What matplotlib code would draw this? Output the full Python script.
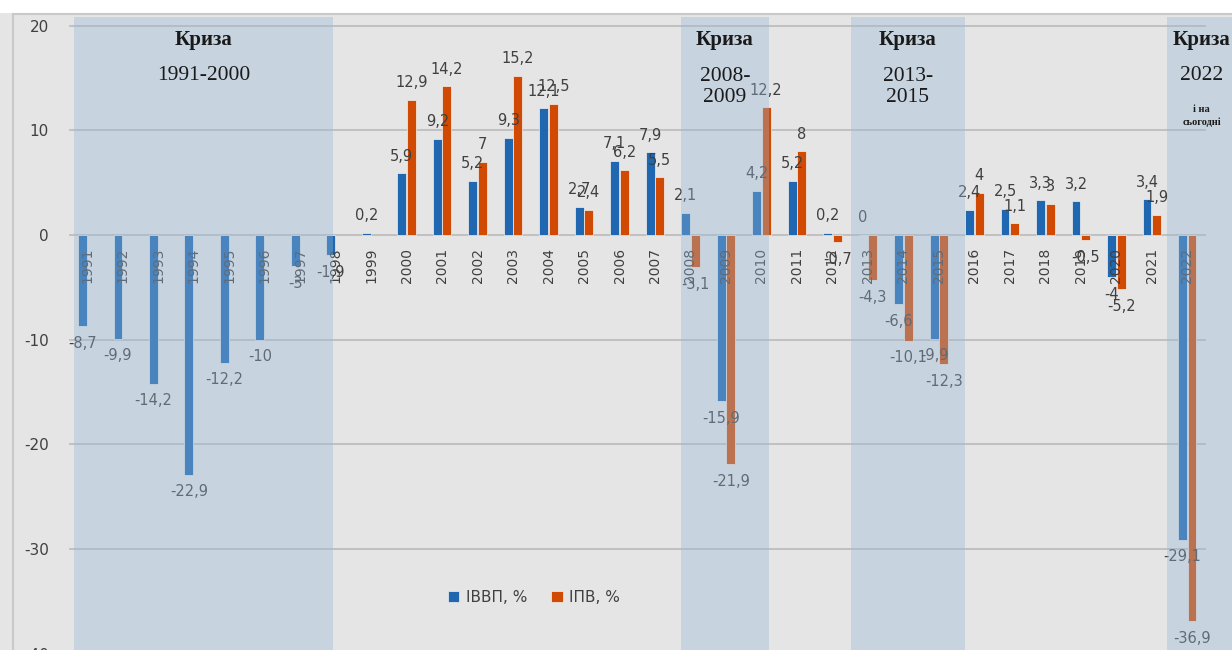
import numpy as np
import matplotlib
matplotlib.use("Agg")
import matplotlib.pyplot as plt
from matplotlib.patches import Rectangle
from matplotlib.lines import Line2D

# ---------------- data ----------------
years = [str(y) for y in range(1991, 2023)]
ivvp = [-8.7, -9.9, -14.2, -22.9, -12.2, -10, -3, -1.9, 0.2, 5.9,
        9.2, 5.2, 9.3, 12.1, 2.7, 7.1, 7.9, 2.1, -15.9, 4.2,
        5.2, 0.2, 0, -6.6, -9.9, 2.4, 2.5, 3.3, 3.2, -4,
        3.4, -29.1]
ipv = [np.nan, np.nan, np.nan, np.nan, np.nan, np.nan, np.nan, np.nan, np.nan, 12.9,
       14.2, 7, 15.2, 12.5, 2.4, 6.2, 5.5, -3.1, -21.9, 12.2,
       8, -0.7, -4.3, -10.1, -12.3, 4, 1.1, 3, -0.5, -5.2,
       1.9, -36.9]
series_names = ["ІВВП, %", "ІПВ, %"]
y_ticks = [-40, -30, -20, -10, 0, 10, 20]

crisis_titles = ["Криза", "Криза", "Криза", "Криза"]
crisis_periods = ["1991-2000", "2008-\n2009", "2013-\n2015", "2022"]

# ---------------- style / layout ----------------
W, H = 1232, 650
BLUE = "#1F67B1"
ORANGE = "#D04A04"
BG = "#E5E5E5"
GRID = "#BEBEBE"
TXT = "#404040"
BAND = "#96B7D6"

fig = plt.figure(figsize=(W / 100, H / 100), dpi=100, facecolor=BG)

def fx(px):
    return px / W

def fy(py):
    return 1 - py / H

# outer chart frame
fig.patches.append(Rectangle((0, fy(13)), 1, 1 - fy(13), transform=fig.transFigure,
                             facecolor="white", edgecolor="none", zorder=0))
fig.add_artist(Line2D([fx(13), 1], [fy(14), fy(14)], color="#C9C9C9", lw=1.5,
                      transform=fig.transFigure))
fig.add_artist(Line2D([fx(13), fx(13)], [fy(14), 0], color="#C9C9C9", lw=1.5,
                      transform=fig.transFigure))

ax_left, ax_right = 69.5, 1205
ax_top, ax_bot = 25.6, 653.8
ax = fig.add_axes([fx(ax_left), fy(ax_bot), fx(ax_right - ax_left), (ax_bot - ax_top) / H])
ax.set_facecolor("none")

x = np.arange(len(years))
bw = 0.25
off = 0.135
ax.bar(x - off, ivvp, width=bw, color=BLUE, edgecolor="#F2F2F2", linewidth=0.5,
       label=series_names[0], zorder=3)
ax.bar(x + off, ipv, width=bw, color=ORANGE, edgecolor="#F2F2F2", linewidth=0.5,
       label=series_names[1], zorder=3)

def fmt(v):
    return f"{v:g}".replace(".", ",")

for xs, vals in ((x - off, ivvp), (x + off, ipv)):
    for xi, v in zip(xs, vals):
        if np.isnan(v):
            continue
        if v >= 0:
            ax.annotate(fmt(v), (xi, v), xytext=(0, 7), textcoords="offset points",
                        ha="center", va="bottom", fontsize=10.5, color=TXT, zorder=4)
        else:
            ax.annotate(fmt(v), (xi, v), xytext=(0, -7), textcoords="offset points",
                        ha="center", va="top", fontsize=10.5, color=TXT, zorder=4)

ax.set_xlim(-0.5, len(years) - 0.5)
ax.set_ylim(-40, 20)
ax.set_yticks(y_ticks)
ax.set_yticklabels([str(t) for t in y_ticks])
ax.set_xticks(x)
ax.set_xticklabels(years)
ax.tick_params(axis="x", length=0, pad=9, labelsize=10, labelcolor=TXT, labelrotation=90)
ax.tick_params(axis="y", length=0, pad=15, labelsize=11, labelcolor=TXT)
for lab in ax.get_xticklabels():
    lab.set_verticalalignment("top")
    lab.set_horizontalalignment("center")
ax.xaxis.set_zorder(3.5)
for s in ("top", "right", "left"):
    ax.spines[s].set_visible(False)
ax.spines["bottom"].set_position(("data", 0))
ax.spines["bottom"].set_color(GRID)
ax.spines["bottom"].set_linewidth(1.3)
for t in y_ticks:
    if t != 0 and t > -40:
        ax.axhline(t, color=GRID, lw=1.3, zorder=1, clip_on=False)

# crisis bands (pixel extents)
band_px = [(74, 333), (681, 769), (851, 965), (1167, 1240)]
cat_px0, cat_step = 87.0, 35.5

def px2x(px):
    return (px - cat_px0) / cat_step

def py2y(py):
    return 20 - (py - ax_top) / ((ax_bot - ax_top) / 60)

for (a, b) in band_px:
    ax.add_patch(Rectangle((px2x(a), -42), px2x(b) - px2x(a), py2y(17) + 42,
                           facecolor=BAND, alpha=0.37, edgecolor="none",
                           zorder=5, clip_on=False))

serif = ["Liberation Serif", "DejaVu Serif"]
title_x = [203.5, 725, 908, 1202]
for i, (tt, pp) in enumerate(zip(crisis_titles, crisis_periods)):
    cx = px2x(title_x[i])
    ax.text(cx, py2y(40), tt, ha="center", va="center", fontsize=15,
            fontweight="bold", family=serif, color="#1A1A1A", zorder=6, clip_on=False)
    if "\n" in pp:
        l1, l2 = pp.split("\n")
        ax.text(cx, py2y(76), l1, ha="center", va="center", fontsize=15.5,
                family=serif, color="#1A1A1A", zorder=6, clip_on=False)
        ax.text(cx, py2y(97), l2, ha="center", va="center", fontsize=15.5,
                family=serif, color="#1A1A1A", zorder=6, clip_on=False)
    else:
        ax.text(cx, py2y(75), pp, ha="center", va="center", fontsize=15.5,
                family=serif, color="#1A1A1A", zorder=6, clip_on=False)

ax.text(px2x(1202), py2y(109), "і на", ha="center", va="center", fontsize=7.5,
        fontweight="bold", family=serif, color="#1A1A1A", zorder=6, clip_on=False)
ax.text(px2x(1202), py2y(122), "сьогодні", ha="center", va="center", fontsize=7.5,
        fontweight="bold", family=serif, color="#1A1A1A", zorder=6, clip_on=False)

leg = ax.legend(loc="center", bbox_to_anchor=(0.409, 0.09), ncol=2, frameon=False,
                fontsize=11, handlelength=0.75, handleheight=0.75, handletextpad=0.4,
                columnspacing=1.6, labelcolor=TXT)

fig.savefig("out.png", dpi=100, facecolor=BG)
